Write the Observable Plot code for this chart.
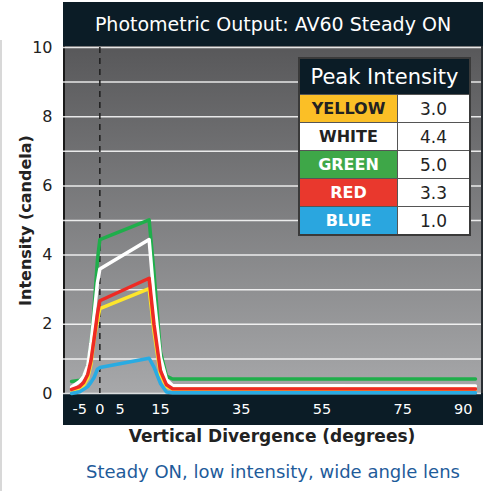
<!DOCTYPE html>
<html><head><meta charset="utf-8">
<script src="https://cdn.jsdelivr.net/npm/d3@7"></script>
<script src="https://cdn.jsdelivr.net/npm/@observablehq/plot@0.6"></script>
<style>
html,body{margin:0;padding:0;background:#fff;}
#wrap{position:relative;width:483px;height:491px;overflow:hidden;font-family:"DejaVu Sans",sans-serif;}
.abs{position:absolute;}
#leftline{left:0;top:40px;width:2px;height:451px;background:#d8d8d8;}
#title{left:63px;top:2px;width:420px;height:44px;background:#0b1c26;color:#fff;font-size:19px;display:flex;align-items:center;justify-content:center;}
#plotbg{left:63px;top:46px;width:418px;height:348px;background:linear-gradient(#58585a,#a7a8aa);border-left:2px solid #1a1a1a;box-sizing:border-box;}
#rightedge{left:481px;top:46px;width:2px;height:348px;background:#2a2f33;}
#band{left:63px;top:393px;width:420px;height:32px;background:#0b1c26;}
#chart{left:0;top:0;}
#xlabel{left:63px;width:418px;top:426px;text-align:center;font-weight:bold;font-size:17px;color:#222;}
#caption{left:63px;width:420px;top:461px;text-align:center;font-size:18px;color:#1e5b9a;}
#legend{left:298px;top:57px;border-collapse:collapse;border:2px solid #3a3a3a;background:#fff;}
#legend td{border:1.5px solid #555;height:27px;padding:0;text-align:center;font-size:16px;}
#legend th{background:#0b1c26;color:#fff;font-weight:normal;font-size:21px;height:35px;padding:0;}
#legend td.name{width:97px;font-weight:bold;}
#legend td.val{width:71px;color:#222;font-size:17px;}
</style></head>
<body><div id="wrap">
<div class="abs" id="leftline"></div>
<div class="abs" id="title">Photometric Output: AV60 Steady ON</div>
<div class="abs" id="plotbg"></div>
<div class="abs" id="rightedge"></div>
<div class="abs" id="band"></div>
<div class="abs" id="chart"></div>
<div class="abs" id="xlabel">Vertical Divergence (degrees)</div>
<div class="abs" id="caption">Steady ON, low intensity, wide angle lens</div>
<table class="abs" id="legend"></table>
</div>
<script>
// Data
const angle  = [-7, -5, -4, -3, -2.2, -1.4, -0.6, 0, 12.2, 13.4, 15, 16.5, 18, 93];
const green  = [0.35, 0.38, 0.5, 0.75, 1.4, 2.5, 3.85, 4.45, 5.02, 3.5, 1.2, 0.5, 0.42, 0.42];
const white  = [0.18, 0.35, 0.5, 0.8, 1.45, 2.3, 3.2, 3.6, 4.45, 2.8, 1.05, 0.4, 0.23, 0.22];
const yellow = [0.1, 0.15, 0.25, 0.45, 0.85, 1.6, 2.1, 2.45, 3.03, 1.8, 0.55, 0.2, 0.13, 0.12];
const red    = [0.12, 0.2, 0.32, 0.55, 0.95, 1.6, 2.3, 2.68, 3.33, 2.0, 0.66, 0.25, 0.14, 0.13];
const blue   = [0.0, 0.05, 0.12, 0.2, 0.32, 0.47, 0.7, 0.75, 1.02, 0.76, 0.29, 0.04, 0.02, 0.02];

const legendNames  = ["YELLOW", "WHITE", "GREEN", "RED", "BLUE"];
const legendPeaks  = ["3.0", "4.4", "5.0", "3.3", "1.0"];
const legendFills  = ["#fbbf26", "#ffffff", "#3ea748", "#e9382d", "#2aa6df"];
const legendText   = ["#222", "#222", "#fff", "#fff", "#fff"];

const xTicks = [-5, 0, 5, 15, 35, 55, 75, 90];
const yTicks = [0, 2, 4, 6, 8, 10];
const gridValues = [0,1,2,3,4,5,6,7,8,9,10];

const series = [
  {name:"GREEN", vals:green, color:"#1fae4b"},
  {name:"WHITE", vals:white, color:"#ffffff"},
  {name:"YELLOW", vals:yellow, color:"#fde62c"},
  {name:"RED", vals:red, color:"#ee2a24"},
  {name:"BLUE", vals:blue, color:"#29abe2"}
];

const lineMarks = series.map(s =>
  Plot.line(angle.map((a,i)=>({x:a, y:s.vals[i]})), {x:"x", y:"y", stroke:s.color, strokeWidth:3.5, curve:"linear", strokeLinejoin:"round"})
);

const chart = Plot.plot({
  width:483, height:425,
  marginLeft:63, marginRight:2, marginTop:47, marginBottom:32,
  style:{background:"transparent", fontFamily:"DejaVu Sans, sans-serif", overflow:"visible"},
  x:{domain:[-9, 94.5]},
  y:{domain:[0, 10]},
  marks:[
    Plot.gridY(gridValues, {stroke:"#ffffff", strokeOpacity:0.85, strokeWidth:1.5}),
    Plot.ruleX([0], {stroke:"#1d1d1d", strokeWidth:1.5, strokeDasharray:"6,5"}),
    ...lineMarks,
    Plot.axisY(yTicks, {tickSize:0, tickPadding:11, fontSize:16, fill:"#222", label:"Intensity (candela)", labelAnchor:"center", labelArrow:"none", labelOffset:44}),
    Plot.axisX(xTicks, {tickSize:0, tickPadding:10, fontSize:14.5, fill:"#ffffff", label:null, tickFormat:d => String(d)})
  ]
});
document.getElementById("chart").appendChild(chart);
chart.querySelectorAll("[aria-label='y-axis label'] text").forEach(t=>{
  t.setAttribute("font-weight","bold"); t.setAttribute("font-size","16"); t.setAttribute("fill","#222");
});

const tbl = document.getElementById("legend");
let html = '<tr><th colspan="2">Peak Intensity</th></tr>';
legendNames.forEach((n,i)=>{
  html += `<tr><td class="name" style="background:${legendFills[i]};color:${legendText[i]}">${n}</td><td class="val">${legendPeaks[i]}</td></tr>`;
});
tbl.innerHTML = html;
</script>
</body></html>
